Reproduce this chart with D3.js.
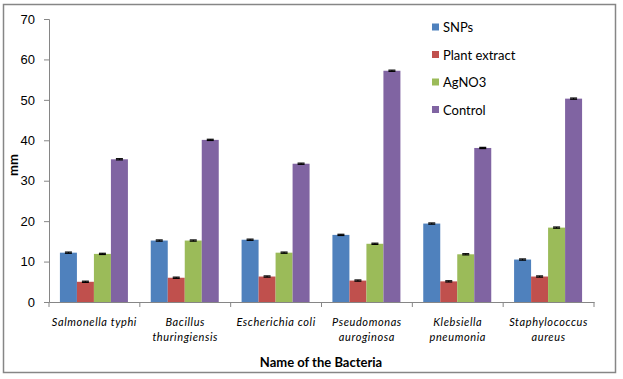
<!DOCTYPE html>
<html>
<head>
<meta charset="utf-8">
<script src="https://cdn.jsdelivr.net/npm/d3@7"></script>
<style>
  body { margin: 0; background: #fff; }
  svg { font-family: Lato, "Open Sans", sans-serif; }
</style>
</head>
<body>
<svg width="623" height="379"></svg>
<script>
var bacteria = [
  ["Salmonella typhi"],
  ["Bacillus", "thuringiensis"],
  ["Escherichia coli"],
  ["Pseudomonas", "auroginosa"],
  ["Klebsiella", "pneumonia"],
  ["Staphylococcus", "aureus"]
];
var seriesNames = ["SNPs", "Plant extract", "AgNO3", "Control"];
var snps = [12.2, 15.2, 15.4, 16.6, 19.4, 10.5];
var plantExtract = [5.0, 6.0, 6.3, 5.3, 5.1, 6.3];
var agno3 = [11.9, 15.2, 12.2, 14.4, 11.8, 18.4];
var control = [35.3, 40.1, 34.2, 57.2, 38.1, 50.3];
var errors = [0.15, 0.15, 0.15, 0.15, 0.15, 0.15];
var yTicks = [0, 10, 20, 30, 40, 50, 60, 70];
var colors = ["#4f81bd", "#c0504d", "#9bbb59", "#8064a2"];

var svg = d3.select("svg");
var margin = { top: 19, right: 29, bottom: 77, left: 49 };
var width = +svg.attr("width") - margin.left - margin.right;
var height = +svg.attr("height") - margin.top - margin.bottom;

// chart frame
svg.append("rect")
  .attr("x", 3.5).attr("y", 4.5)
  .attr("width", 612).attr("height", 368)
  .attr("fill", "none").attr("stroke", "#868686").attr("stroke-width", 1.5);

var g = svg.append("g")
  .attr("transform", "translate(" + margin.left + "," + margin.top + ")");

var series = [snps, plantExtract, agno3, control];
var idx = d3.range(bacteria.length);

var x0 = d3.scaleBand().domain(idx).range([0, width]);
var bw = x0.bandwidth();
var x1 = d3.scaleBand().domain(d3.range(4))
  .range([bw / 2 - 34.5, bw / 2 + 33.5]);
var y = d3.scaleLinear().domain([0, 70]).range([height, 0]);

// bars
var grp = g.selectAll(".grp")
  .data(idx)
  .enter().append("g")
    .attr("class", "grp")
    .attr("transform", function(i) { return "translate(" + x0(i) + ",0)"; });

function rows(i) {
  return series.map(function(s, k) { return { k: k, v: s[i], e: errors[i] }; });
}

grp.selectAll("rect")
  .data(rows)
  .enter().append("rect")
    .attr("x", function(d) { return x1(d.k); })
    .attr("width", x1.bandwidth())
    .attr("y", function(d) { return y(d.v); })
    .attr("height", function(d) { return height - y(d.v); })
    .attr("fill", function(d) { return colors[d.k]; });

// error bars (tiny, caps nearly merge)
var eb = grp.selectAll(".err")
  .data(rows)
  .enter().append("g").attr("class", "err")
    .attr("transform", function(d) { return "translate(" + (x1(d.k) + x1.bandwidth() / 2) + ",0)"; });
eb.append("line")
  .attr("y1", function(d) { return y(d.v + d.e); })
  .attr("y2", function(d) { return y(d.v - d.e); })
  .attr("stroke", "#000").attr("stroke-width", 1);
eb.selectAll(".cap")
  .data(function(d) { return [d.v + d.e, d.v - d.e]; })
  .enter().append("line")
    .attr("x1", -3.5).attr("x2", 3.5)
    .attr("y1", function(v) { return y(v); })
    .attr("y2", function(v) { return y(v); })
    .attr("stroke", "#000").attr("stroke-width", 1.2);

// y axis
var yAxis = g.append("g")
  .call(d3.axisLeft(y).tickValues(yTicks).tickSize(5).tickPadding(9));
yAxis.select(".domain").attr("stroke", "#868686");
yAxis.selectAll(".tick line").attr("stroke", "#868686");
yAxis.selectAll(".tick text").attr("font-size", 13).attr("fill", "#000");

// x axis
var xAxis = g.append("g")
  .attr("transform", "translate(0," + height + ")")
  .call(d3.axisBottom(x0).tickSize(0).tickFormat(""));
xAxis.select(".domain").attr("stroke", "#868686");
xAxis.selectAll(".tick").remove();
xAxis.selectAll(".sep")
  .data(d3.range(bacteria.length + 1))
  .enter().append("line")
    .attr("x1", function(i) { return i * bw; })
    .attr("x2", function(i) { return i * bw; })
    .attr("y1", 0).attr("y2", 5)
    .attr("stroke", "#868686");

var lbl = g.selectAll(".cat")
  .data(idx)
  .enter().append("text")
    .attr("class", "cat")
    .attr("text-anchor", "middle")
    .attr("font-size", 11)
    .attr("letter-spacing", 0.6)
    .attr("font-style", "italic")
    .attr("transform", function(i) { return "translate(" + (x0(i) + bw / 2) + "," + (height + 24) + ")"; });
lbl.selectAll("tspan")
  .data(function(i) { return bacteria[i]; })
  .enter().append("tspan")
    .attr("x", 0)
    .attr("dy", function(d, j) { return j ? 15 : 0; })
    .text(function(d) { return d; });

// axis titles
svg.append("text")
  .attr("x", 321).attr("y", 367)
  .attr("text-anchor", "middle")
  .attr("font-size", 13).attr("font-weight", "bold")
  .text("Name of the Bacteria");

svg.append("text")
  .attr("transform", "translate(18,165) rotate(-90)")
  .attr("text-anchor", "middle")
  .attr("font-size", 13).attr("font-weight", "bold")
  .text("mm");

// legend
var leg = svg.append("g").attr("transform", "translate(432,27)");
var li = leg.selectAll(".li")
  .data(seriesNames)
  .enter().append("g")
    .attr("transform", function(d, i) { return "translate(0," + i * 27.5 + ")"; });
li.append("rect")
  .attr("x", 0).attr("y", -3.5).attr("width", 7).attr("height", 7)
  .attr("fill", function(d, i) { return colors[i]; });
li.append("text")
  .attr("x", 11).attr("y", 5)
  .attr("font-size", 13)
  .text(function(d) { return d; });
</script>
</body>
</html>
